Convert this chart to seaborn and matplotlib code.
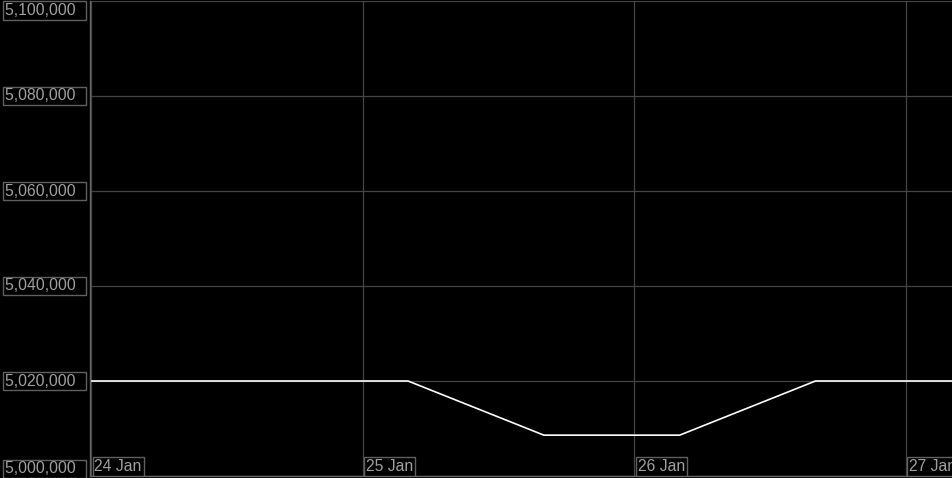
import pandas as pd
import seaborn as sns
import matplotlib.pyplot as plt
import matplotlib.dates as mdates
import matplotlib.transforms as mtransforms

# values (12-hour samples)
times = ["2024-01-23 16:00", "2024-01-24 04:00", "2024-01-24 16:00", "2024-01-25 04:00",
         "2024-01-25 16:00", "2024-01-26 04:00", "2024-01-26 16:00", "2024-01-27 04:00",
         "2024-01-27 16:00"]
values = [5020000, 5020000, 5020000, 5020000, 5008600, 5008600, 5020000, 5020000, 5020000]

y_ticks = [5000000, 5020000, 5040000, 5060000, 5080000, 5100000]
x_ticks = ["2024-01-24", "2024-01-25", "2024-01-26", "2024-01-27"]
x_labels = ["24 Jan", "25 Jan", "26 Jan", "27 Jan"]

df = pd.DataFrame({"time": pd.to_datetime(times), "value": values})

sns.set_theme(style="dark")
plt.rcParams['font.family'] = ['Liberation Sans', 'DejaVu Sans']

fig = plt.figure(figsize=(9.53, 4.78), dpi=100, facecolor="black")
ax = fig.add_axes([90 / 953, 2 / 478, 1 - 90 / 953, 475 / 478])
ax.set_facecolor("black")

sns.lineplot(data=df, x="time", y="value", color="white", linewidth=1.2, ax=ax)

ax.set_xlim(pd.Timestamp("2024-01-23 23:54"), pd.Timestamp("2024-01-27 04:09"))
ax.set_ylim(5000000, 5100000)
ax.set_xlabel("")
ax.set_ylabel("")

ax.set_xticks(pd.to_datetime(x_ticks))
ax.set_yticks(y_ticks)
ax.grid(True, color="#444444", linewidth=0.9)
ax.tick_params(left=False, bottom=False, labelleft=False, labelbottom=False)
for s in ["top", "right"]:
    ax.spines[s].set_visible(False)
for s in ["left", "bottom"]:
    ax.spines[s].set_color("#666666")
    ax.spines[s].set_linewidth(1.0)

box = dict(boxstyle="square,pad=0.12", facecolor="black", edgecolor="#606060", linewidth=1.0)

# y labels outside on the left, boxed
ytrans = mtransforms.blended_transform_factory(fig.transFigure, ax.transData)
for v in y_ticks:
    va = "center"
    yv = v
    if v == y_ticks[-1]:
        va = "top"
        yv = v - 500
    elif v == y_ticks[0]:
        va = "bottom"
        yv = v - 100
    ax.text(5 / 953, yv, f"{v:,}  ", transform=ytrans, ha="left", va=va,
            fontsize=11.3, color="#a0a0a0", bbox=box, clip_on=False)

# x labels inside the plot at the bottom, boxed
xtrans = mtransforms.blended_transform_factory(ax.transData, ax.transAxes)
for t, lab in zip(pd.to_datetime(x_ticks), x_labels):
    ax.text(mdates.date2num(t) + 0.012, 0.005, lab, transform=xtrans, ha="left", va="bottom",
            fontsize=11.3, color="#a0a0a0", bbox=box, clip_on=True)

fig.savefig("out.png", dpi=100, facecolor="black")
